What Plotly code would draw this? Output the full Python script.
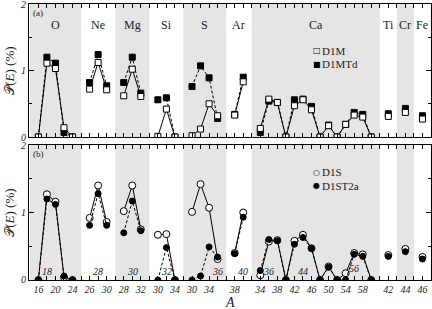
import plotly.graph_objects as go

# ---------------- data ----------------
elements = ["O", "Ne", "Mg", "Si", "S", "Ar", "Ca", "Ti", "Cr", "Fe"]
mass_O = [16, 18, 20, 22, 24]
mass_Ne = [26, 28, 30]
mass_Mg = [28, 30, 32]
mass_Si = [30, 32, 34]
mass_S = [30, 32, 34, 36]
mass_Ar = [38, 40]
mass_Ca = [34, 36, 38, 40, 42, 44, 46, 48, 50, 52, 54, 56, 58, 60]
mass_Ti = [42]
mass_Cr = [44]
mass_Fe = [46]
shaded = ["O", "Mg", "S", "Ca", "Cr"]

# panel (a)
d1m = [0.0, 1.11, 1.03, 0.14, 0.0,
       0.72, 1.12, 0.71,
       0.62, 1.02, 0.61,
       0.01, 0.42, 0.0,
       0.02, 0.12, 0.50, 0.32,
       0.33, 0.83,
       0.13, 0.57, 0.52, 0.0, 0.47, 0.56, 0.41, 0.0, 0.17, 0.0, 0.19, 0.33, 0.30, 0.0,
       0.31, 0.37, 0.27]
d1mtd = [0.0, 1.20, 1.11, 0.07, 0.0,
         0.82, 1.24, 0.77,
         0.82, 1.20, 0.66,
         0.56, 0.59, 0.0,
         0.76, 1.07, 0.89, 0.28,
         0.34, 0.90,
         0.07, 0.54, 0.52, 0.0, 0.56, 0.57, 0.46, 0.0, 0.18, 0.0, 0.19, 0.37, 0.34, 0.0,
         0.35, 0.43, 0.32]
# panel (b)
d1s = [0.0, 1.27, 1.16, 0.04, 0.0,
       0.92, 1.40, 0.86,
       1.02, 1.40, 0.75,
       0.67, 0.68, 0.0,
       1.01, 1.42, 1.07, 0.31,
       0.40, 1.00,
       0.07, 0.57, 0.59, 0.0, 0.58, 0.67, 0.47, 0.0, 0.20, 0.0, 0.10, 0.40, 0.38, 0.0,
       0.37, 0.46, 0.34]
d1st2a = [0.0, 1.20, 1.12, 0.06, 0.0,
          0.81, 1.28, 0.81,
          0.70, 1.17, 0.73,
          0.0, 0.48, 0.0,
          0.0, 0.06, 0.49, 0.34,
          0.39, 0.93,
          0.14, 0.60, 0.58, 0.0, 0.53, 0.63, 0.47, 0.0, 0.19, 0.0, 0.0, 0.38, 0.35, 0.0,
          0.35, 0.42, 0.31]
# marked nuclei in panel (b): (element, A)
marked = [("O", 18), ("Ne", 28), ("Mg", 30), ("Si", 32), ("S", 36), ("Ar", 40),
          ("Ca", 36), ("Ca", 44), ("Ca", 56)]

masses = [mass_O, mass_Ne, mass_Mg, mass_Si, mass_S, mass_Ar, mass_Ca, mass_Ti, mass_Cr, mass_Fe]

# ---------------- sequential positions with one empty slot between element groups ----------------
pos = {}
k = 0
for el, ms in zip(elements, masses):
    for m in ms:
        pos[(el, m)] = k
        k += 1
    k += 1
grp_lo, grp_hi = {}, {}
for el, ms in zip(elements, masses):
    grp_lo[el] = pos[(el, ms[0])] - 1
    grp_hi[el] = pos[(el, ms[-1])] + 1
XMAX = k - 1
XMIN = -1.1


def with_gaps(vals):
    xx, yy = [], []
    i = 0
    for el, ms in zip(elements, masses):
        for m in ms:
            xx.append(pos[(el, m)])
            yy.append(vals[i])
            i += 1
        xx.append(None)
        yy.append(None)
    return xx, yy


FONT = "Liberation Serif"
TXT = "#222"
fig = go.Figure()

# shaded bands
for el in shaded:
    for xr, yr in [("x", "y domain"), ("x2", "y2 domain")]:
        fig.add_shape(type="rect", xref=xr, yref=yr,
                      x0=max(grp_lo[el], XMIN), x1=grp_hi[el],
                      y0=0, y1=1, fillcolor="#e5e5e5", line_width=0, layer="below")

dash = "3px,2px"
# panel (a) traces (top)
x, y = with_gaps(d1mtd)
fig.add_trace(go.Scatter(x=x, y=y, xaxis="x2", yaxis="y2", mode="lines+markers", showlegend=False,
                         line=dict(color="black", width=1, dash=dash),
                         marker=dict(symbol="square", size=6, color="black", line=dict(color="black", width=1))))
x, y = with_gaps(d1m)
fig.add_trace(go.Scatter(x=x, y=y, xaxis="x2", yaxis="y2", mode="lines+markers", showlegend=False,
                         line=dict(color="black", width=1),
                         marker=dict(symbol="square", size=6, color="white", line=dict(color="black", width=1))))
# panel (b) traces (bottom)
x, y = with_gaps(d1s)
fig.add_trace(go.Scatter(x=x, y=y, xaxis="x", yaxis="y", mode="lines+markers", showlegend=False,
                         line=dict(color="black", width=1),
                         marker=dict(symbol="circle", size=7, color="white", line=dict(color="black", width=1))))
x, y = with_gaps(d1st2a)
fig.add_trace(go.Scatter(x=x, y=y, xaxis="x", yaxis="y", mode="lines+markers", showlegend=False,
                         line=dict(color="black", width=1, dash=dash),
                         marker=dict(symbol="circle", size=6, color="black", line=dict(color="black", width=1))))

# tick labels: every other mass in each group starting from the first
labels = {}
for el, ms in zip(elements, masses):
    for j, m in enumerate(ms):
        if j % 2 == 0:
            labels[pos[(el, m)]] = str(m)
all_ticks = list(range(0, XMAX + 1))

annotations = []
for el, ms in zip(elements, masses):
    cx = (pos[(el, ms[0])] + pos[(el, ms[-1])]) / 2
    annotations.append(dict(x=cx, y=1.68, xref="x2", yref="y2", text=el, showarrow=False,
                            xanchor="center", yanchor="middle",
                            font=dict(family=FONT, size=12, color=TXT)))
for el, m in marked:
    annotations.append(dict(x=pos[(el, m)], y=0.13 if m != 56 else 0.17, xref="x", yref="y", text=str(m),
                            showarrow=False, xanchor="center", yanchor="middle",
                            font=dict(family=FONT, size=10, color=TXT, style="italic")))

# legend keys (glyph + label)
legend_items = [("□", "D1M", 0.831), ("■", "D1MTd", 0.782), ("○", "D1S", 0.391), ("●", "D1ST2a", 0.341)]
for glyph, name, yy in legend_items:
    annotations.append(dict(x=0.716, y=yy, xref="paper", yref="paper", text=glyph, showarrow=False,
                            xanchor="center", yanchor="middle",
                            font=dict(family="DejaVu Sans", size=8, color="black")))
    annotations.append(dict(x=0.724, y=yy, xref="paper", yref="paper", text=name, showarrow=False,
                            xanchor="left", yanchor="middle", font=dict(family=FONT, size=11, color=TXT)))

annotations += [
    dict(x=0.004, y=0.935, xref="x2 domain", yref="y2 domain", text="(a)", showarrow=False, xanchor="left",
         yanchor="middle", font=dict(family=FONT, size=9, color=TXT)),
    dict(x=0.004, y=0.935, xref="x domain", yref="y domain", text="(b)", showarrow=False, xanchor="left",
         yanchor="middle", font=dict(family=FONT, size=9, color=TXT)),
    dict(x=-0.049, y=0.5, xref="x2 domain", yref="y2 domain", text="𝒫(<i>E</i>) (%)", showarrow=False,
         xanchor="center", yanchor="middle",
         textangle=-90, font=dict(family=FONT, size=13, color=TXT)),
    dict(x=-0.049, y=0.5, xref="x domain", yref="y domain", text="𝒫(<i>E</i>) (%)", showarrow=False,
         xanchor="center", yanchor="middle",
         textangle=-90, font=dict(family=FONT, size=13, color=TXT)),
    dict(x=0.5, y=-0.082, xref="x domain", yref="paper", text="<i>A</i>", showarrow=False,
         xanchor="center", yanchor="middle", font=dict(family=FONT, size=14, color=TXT)),
]

yaxis_common = dict(range=[0, 2], tickvals=[0, 1, 2], ticktext=["0", "1", "2"], ticks="inside", ticklen=5,
                    tickcolor="black", showline=True, linecolor="black", linewidth=1, mirror="ticks",
                    showgrid=False, zeroline=False, automargin=False, ticklabeloverflow="allow",
                    tickfont=dict(family=FONT, size=10, color=TXT, style="italic"),
                    minor=dict(tickvals=[0.5, 1.5], ticks="inside", ticklen=3, tickcolor="black"))
xaxis_common = dict(range=[XMIN, XMAX], tickvals=all_ticks, ticks="inside", ticklen=4, tickcolor="black",
                    showline=True, linecolor="black", linewidth=1, mirror="ticks", showgrid=False,
                    zeroline=False, automargin=False)

fig.update_layout(
    width=432, height=309,
    margin=dict(l=29, r=1, t=4, b=29, autoexpand=False),
    paper_bgcolor="white", plot_bgcolor="white",
    font=dict(family=FONT, color=TXT),
    showlegend=False,
    xaxis=dict(anchor="y", ticktext=[labels.get(v, "") for v in all_ticks],
               tickfont=dict(family=FONT, size=10, color=TXT, style="italic"), **xaxis_common),
    xaxis2=dict(anchor="y2", matches="x", showticklabels=False, **xaxis_common),
    yaxis=dict(domain=[0, 0.489], anchor="x", **yaxis_common),
    yaxis2=dict(domain=[0.518, 1], anchor="x2", **yaxis_common),
    annotations=annotations,
)

fig.write_html("out.html", config={"displayModeBar": False},
               post_script="document.body.style.margin='0';")
